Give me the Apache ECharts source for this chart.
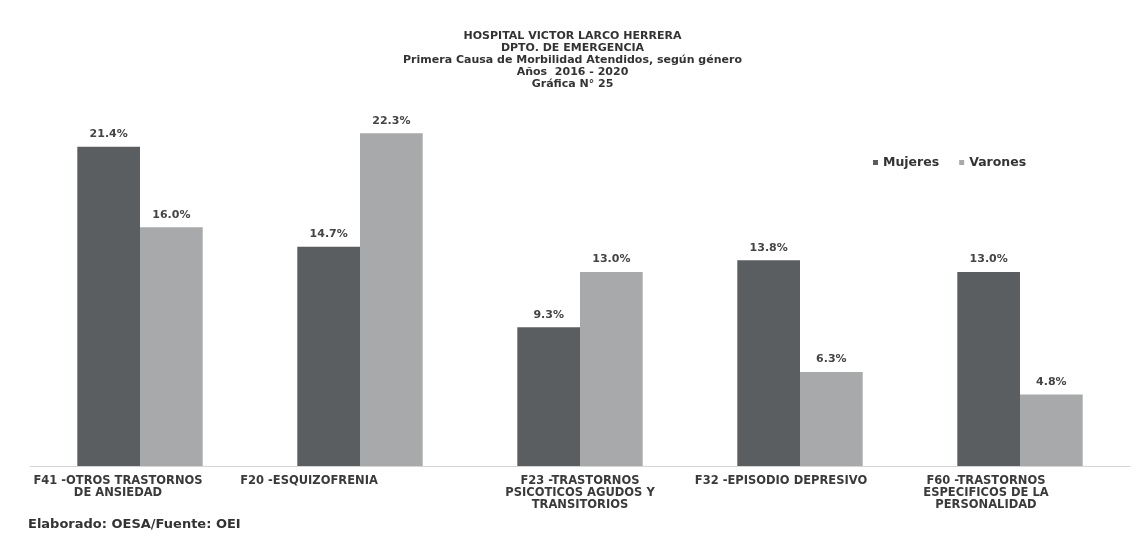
<!DOCTYPE html>
<html>
<head>
<meta charset="utf-8">
<script src="https://cdn.jsdelivr.net/npm/echarts@6/dist/echarts.min.js"></script>
<style>
  html, body { margin: 0; padding: 0; background: #fff; }
  #chart { width: 1145px; height: 539px; }
</style>
</head>
<body>
<div id="chart"></div>
<script>
// Categories and values (% of emergency attentions, 2016-2020)
const categories = [
  'F41 -OTROS TRASTORNOS\nDE ANSIEDAD',
  'F20 -ESQUIZOFRENIA',
  'F23 -TRASTORNOS\nPSICOTICOS AGUDOS Y\nTRANSITORIOS',
  'F32 -EPISODIO DEPRESIVO',
  'F60 -TRASTORNOS\nESPECIFICOS DE LA\nPERSONALIDAD'
];
const mujeres = [21.4, 14.7, 9.3, 13.8, 13.0];
const varones = [16.0, 22.3, 13.0, 6.3, 4.8];
const titleLines = [
  'HOSPITAL VICTOR LARCO HERRERA',
  'DPTO. DE EMERGENCIA',
  'Primera Causa de Morbilidad Atendidos, según género',
  'Años  2016 - 2020',
  'Gráfica N° 25'
];

const FONT = '"DejaVu Sans", "Liberation Sans", Arial, sans-serif';
// horizontal nudge of each category label block (right padding, px)
const labelShift = [44, 102, 0, 38, 68];

const rich = {};
labelShift.forEach((p, i) => {
  rich['c' + i] = {
    fontFamily: FONT, fontWeight: 'bold', fontSize: 11.5, color: '#3a3a3a',
    lineHeight: 12, padding: [0, p, 0, 0], align: 'center'
  };
});

const valueLabel = {
  show: true, position: 'top', distance: 7,
  formatter: p => p.value.toFixed(1) + '%',
  fontFamily: FONT, fontSize: 11, fontWeight: 'bold', color: '#444'
};

const chart = echarts.init(document.getElementById('chart'));
chart.setOption({
  backgroundColor: '#ffffff',
  animation: false,
  title: {
    text: titleLines.join('\n'),
    left: 'center',
    top: 25,
    textStyle: {
      fontFamily: FONT, fontSize: 11, fontWeight: 'bold',
      color: '#333', lineHeight: 12
    }
  },
  legend: {
    data: ['Mujeres', 'Varones'],
    left: 868, top: 151,
    itemWidth: 5, itemHeight: 5, itemGap: 20,
    icon: 'rect',
    textStyle: { fontFamily: FONT, fontSize: 12.5, fontWeight: 'bold', color: '#333' }
  },
  grid: { left: 30, right: 15, top: 108, bottom: 73, containLabel: false },
  xAxis: {
    type: 'category',
    data: categories,
    axisLine: { show: true, lineStyle: { color: '#d4d4d4', width: 1 } },
    axisTick: { show: false },
    axisLabel: {
      interval: 0, margin: 9,
      formatter: (v, i) => v.split('\n').map(s => '{c' + i + '|' + s + '}').join('\n'),
      rich: rich
    }
  },
  yAxis: {
    type: 'value', min: 0, max: 24,
    show: false, splitLine: { show: false }
  },
  series: [
    {
      name: 'Mujeres', type: 'bar', data: mujeres,
      barGap: '0%', barCategoryGap: '43%',
      itemStyle: { color: '#5b5e61' },
      label: valueLabel
    },
    {
      name: 'Varones', type: 'bar', data: varones,
      itemStyle: { color: '#a7a9aa' },
      label: valueLabel
    }
  ],
  graphic: [
    {
      type: 'text', left: 28, top: 518,
      style: {
        text: 'Elaborado: OESA/Fuente: OEI',
        font: 'bold 13px ' + FONT, fill: '#333'
      }
    }
  ]
});
</script>
</body>
</html>
